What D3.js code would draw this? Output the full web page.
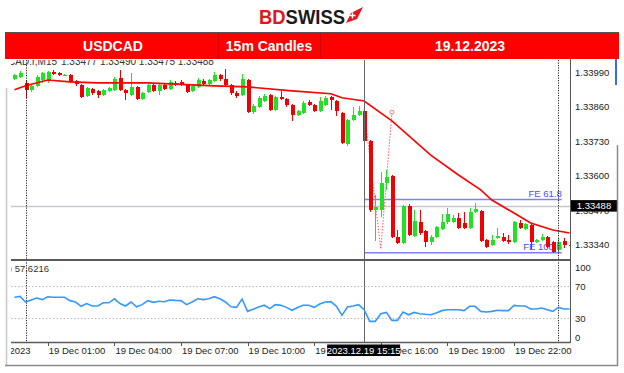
<!DOCTYPE html>
<html>
<head>
<meta charset="utf-8">
<script src="https://cdn.jsdelivr.net/npm/d3@7"></script>
<style>
  body { margin: 0; background: #fff; }
  svg { display: block; font-family: "Liberation Sans", Arial, sans-serif; }
</style>
</head>
<body>
<svg id="chart" width="624" height="373"></svg>
<script>
// 15m candles, index 0 = 18 Dec 23:30
const open = [
  1.33964, 1.33972, 1.33949, 1.33923, 1.33938, 1.33960, 1.33957, 1.33990, 1.33987, 1.33977,
  1.33979, 1.33957, 1.33942, 1.33900, 1.33927, 1.33919, 1.33904, 1.33919, 1.33923, 1.33968,
  1.33923, 1.33904, 1.33934, 1.33889, 1.33915, 1.33942, 1.33919, 1.33942, 1.33927, 1.33949,
  1.33953, 1.33942, 1.33919, 1.33934, 1.33957, 1.33945, 1.33957, 1.33979, 1.33964, 1.33942,
  1.33912, 1.33904, 1.33960, 1.33840, 1.33859, 1.33881, 1.33904, 1.33848, 1.33896, 1.33889,
  1.33866, 1.33829, 1.33836, 1.33878, 1.33866, 1.33844, 1.33866, 1.33896, 1.33881, 1.33836,
  1.33720, 1.33810, 1.33829, 1.33844, 1.33731, 1.33472, 1.33472, 1.33573, 1.33599, 1.33370,
  1.33348, 1.33487, 1.33374, 1.33426, 1.33393, 1.33351, 1.33370, 1.33400, 1.33426, 1.33426,
  1.33442, 1.33423, 1.33404, 1.33464, 1.33468, 1.33359, 1.33340, 1.33366, 1.33370, 1.33359,
  1.33351, 1.33423, 1.33400, 1.33415, 1.33351, 1.33359, 1.33370, 1.33351, 1.33321, 1.33355,
  1.33340
];
const high = [
  1.33983, 1.33994, 1.33960, 1.33945, 1.33979, 1.33990, 1.33994, 1.33998, 1.33990, 1.33983,
  1.33983, 1.33960, 1.33945, 1.33934, 1.33930, 1.33923, 1.33927, 1.33934, 1.33972, 1.33998,
  1.33927, 1.33987, 1.33938, 1.33915, 1.33945, 1.33945, 1.33945, 1.33945, 1.33960, 1.33957,
  1.33960, 1.33945, 1.33942, 1.33968, 1.33964, 1.33964, 1.33990, 1.33983, 1.34002, 1.33945,
  1.33919, 1.33983, 1.33964, 1.33870, 1.33900, 1.33908, 1.33908, 1.33900, 1.33919, 1.33893,
  1.33870, 1.33848, 1.33881, 1.33885, 1.33870, 1.33896, 1.33900, 1.33900, 1.33885, 1.33840,
  1.33814, 1.33859, 1.33863, 1.33863, 1.33735, 1.33528, 1.33614, 1.33622, 1.33603, 1.33396,
  1.33490, 1.33494, 1.33472, 1.33472, 1.33396, 1.33378, 1.33411, 1.33457, 1.33479, 1.33453,
  1.33460, 1.33464, 1.33479, 1.33498, 1.33472, 1.33363, 1.33378, 1.33404, 1.33385, 1.33378,
  1.33430, 1.33434, 1.33423, 1.33419, 1.33363, 1.33381, 1.33374, 1.33355, 1.33366, 1.33366,
  1.33351
];
const low = [
  1.33960, 1.33968, 1.33893, 1.33915, 1.33934, 1.33949, 1.33949, 1.33979, 1.33975, 1.33975,
  1.33949, 1.33938, 1.33893, 1.33896, 1.33904, 1.33893, 1.33900, 1.33915, 1.33919, 1.33919,
  1.33885, 1.33900, 1.33885, 1.33885, 1.33912, 1.33915, 1.33904, 1.33923, 1.33923, 1.33938,
  1.33938, 1.33912, 1.33915, 1.33930, 1.33938, 1.33942, 1.33953, 1.33957, 1.33938, 1.33904,
  1.33893, 1.33900, 1.33836, 1.33833, 1.33855, 1.33878, 1.33844, 1.33844, 1.33885, 1.33859,
  1.33806, 1.33825, 1.33833, 1.33863, 1.33840, 1.33840, 1.33863, 1.33848, 1.33825, 1.33720,
  1.33712, 1.33806, 1.33825, 1.33724, 1.33464, 1.33355, 1.33445, 1.33547, 1.33366, 1.33344,
  1.33344, 1.33374, 1.33370, 1.33378, 1.33332, 1.33340, 1.33366, 1.33396, 1.33419, 1.33423,
  1.33400, 1.33400, 1.33400, 1.33460, 1.33351, 1.33329, 1.33336, 1.33363, 1.33351, 1.33344,
  1.33348, 1.33400, 1.33396, 1.33325, 1.33348, 1.33355, 1.33329, 1.33310, 1.33314, 1.33329,
  1.33321
];
const close = [
  1.33979, 1.33987, 1.33923, 1.33938, 1.33972, 1.33987, 1.33990, 1.33983, 1.33979, 1.33979,
  1.33953, 1.33945, 1.33896, 1.33930, 1.33912, 1.33904, 1.33923, 1.33930, 1.33964, 1.33923,
  1.33912, 1.33934, 1.33889, 1.33912, 1.33942, 1.33919, 1.33942, 1.33927, 1.33953, 1.33942,
  1.33942, 1.33915, 1.33938, 1.33960, 1.33945, 1.33960, 1.33979, 1.33964, 1.33942, 1.33912,
  1.33900, 1.33964, 1.33840, 1.33863, 1.33893, 1.33900, 1.33848, 1.33896, 1.33889, 1.33866,
  1.33829, 1.33844, 1.33874, 1.33866, 1.33844, 1.33881, 1.33893, 1.33885, 1.33844, 1.33724,
  1.33810, 1.33829, 1.33844, 1.33731, 1.33472, 1.33483, 1.33573, 1.33596, 1.33370, 1.33348,
  1.33487, 1.33378, 1.33430, 1.33385, 1.33351, 1.33370, 1.33408, 1.33426, 1.33457, 1.33442,
  1.33404, 1.33404, 1.33464, 1.33475, 1.33355, 1.33332, 1.33359, 1.33374, 1.33355, 1.33351,
  1.33426, 1.33404, 1.33419, 1.33351, 1.33359, 1.33370, 1.33332, 1.33314, 1.33351, 1.33340,
  1.33336
];

// moving average, read at a few candles
const maIdx = [0, 2, 6, 10, 15, 24, 36, 42, 50, 57, 59, 63, 68, 75, 80, 84, 86, 90, 93, 97, 100];
const maVal = [1.33923, 1.33938, 1.33960, 1.33953, 1.33949, 1.33949, 1.33938, 1.33934, 1.33919, 1.33908,
  1.33893, 1.33881, 1.33806, 1.33678, 1.33603, 1.33547, 1.33509, 1.33460, 1.33423, 1.33396, 1.33385];

// RSI(14), one value per candle
const rsi = [
  56, 57, 50, 52.5, 55, 53, 56.6, 56, 56, 56,
  51.7, 50, 44.6, 48, 45, 45, 49, 49, 54, 48,
  45, 50, 44, 46.7, 51.7, 49.6, 51, 50.4, 52.5, 52,
  51.7, 46.7, 50, 54, 53, 54, 56.6, 54, 50, 44,
  43.3, 53.7, 38.3, 41, 43.7, 46, 41.7, 46.7, 45.8, 43.3,
  39.6, 43, 46, 46, 43.3, 47.5, 50, 50.4, 44.6, 33.3,
  43.7, 45, 46.7, 40.4, 25.8, 25.8, 35.4, 37, 27, 27,
  37.5, 34, 37, 35.4, 34.6, 34, 36.3, 39.2, 40.4, 40.4,
  40.4, 39.2, 44.6, 44.6, 38.3, 37.5, 38.3, 39.6, 39.2, 39.2,
  45.8, 45, 45, 41.2, 41.2, 42.5, 40.4, 38.3, 43.3, 41.2,
  41.2
];

const priceTicks = [1.33990, 1.33860, 1.33730, 1.33600, 1.33470, 1.33340];
const rsiTicks = [100, 70, 30, 0];
const rsiLevels = [70, 30];
const timeIdx = [-7, 6, 18, 30, 42, 54, 66, 78, 90];
const timeLabels = ["18 Dec 2023", "19 Dec 01:00", "19 Dec 04:00", "19 Dec 07:00", "19 Dec 10:00",
  "19 Dec 13:00", "19 Dec 16:00", "19 Dec 19:00", "19 Dec 22:00"];
const daySeparators = [2, 98];

// Fibonacci expansion A-B-C
const feIdx = [63, 66, 68];
const fePrice = [1.33849, 1.33325, 1.33835];
const feRatios = [0.618, 1.0];
const feLabels = ["FE 61.8", "FE 100.0"];
const feEndIdx = 98.6;

const crossIdx = 63, crossPrice = 1.33488;
const crossTime = "2023.12.19 15:15";
const header = ["USDCAD", "15m Candles", "19.12.2023"];

const svg = d3.select("#chart");
const left = 11, right = 570, mainTop = 60, mainBot = 260;

const x = d3.scaleLinear().domain([-0.63, 100.09]).range([left, right]);
const y = d3.scaleLinear().domain([1.3328364, 1.340351]).range([mainBot, mainTop]);
const yr = d3.scaleLinear().domain([0, 100]).range([342, 262]);

svg.append("rect").attr("width", 624).attr("height", 373).attr("fill", "#fff");

const defs = svg.append("defs");
defs.append("clipPath").attr("id", "plot")
  .append("rect").attr("x", left).attr("y", mainTop).attr("width", right - left).attr("height", 342 - mainTop);
defs.append("clipPath").attr("id", "axisclip")
  .append("rect").attr("x", left).attr("y", 340).attr("width", right - left + 60).attr("height", 25);

// chart info line (partly hidden under the banner)
svg.append("g").attr("clip-path", "url(#plot)")
  .selectAll("text").data([["USDCAD.r,M15", 57, "end"], ["1.33477 1.33490 1.33475 1.33488", 61, "start"]])
  .join("text")
  .attr("x", d => d[1]).attr("y", 65)
  .attr("text-anchor", d => d[2])
  .attr("font-size", 10).attr("fill", "#333")
  .text(d => d[0]);

const plot = svg.append("g").attr("clip-path", "url(#plot)");

// crosshair horizontal
plot.append("line")
  .attr("x1", left).attr("x2", right)
  .attr("y1", Math.round(y(crossPrice)) + 0.5).attr("y2", Math.round(y(crossPrice)) + 0.5)
  .attr("stroke", "#c4c9cf").attr("stroke-width", 1.5);

// FE levels
const feRange = fePrice[0] - fePrice[1];
const feLevels = feRatios.map(r => fePrice[2] - feRange * r);
plot.selectAll(".fe").data(feLevels).join("line")
  .attr("x1", x(feIdx[0])).attr("x2", x(feEndIdx))
  .attr("y1", d => y(d)).attr("y2", d => y(d))
  .attr("stroke", "#8080ff").attr("stroke-width", 1.5);
plot.selectAll(".fel").data(feLevels).join("text")
  .attr("x", x(feEndIdx)).attr("y", d => y(d) - 2.5)
  .attr("text-anchor", "end").attr("font-size", 9.5).attr("fill", "#4a4aff")
  .text((d, i) => feLabels[i]);

// FE trend dotted lines
plot.append("path")
  .attr("d", d3.line().x((d, i) => x(feIdx[i])).y(d => y(d))(fePrice))
  .attr("fill", "none").attr("stroke", "#ff5a5a").attr("stroke-width", 1)
  .attr("stroke-dasharray", "1.5,1.5");
plot.append("circle")
  .attr("cx", x(feIdx[2])).attr("cy", y(fePrice[2]) - 1).attr("r", 2)
  .attr("fill", "none").attr("stroke", "#ff5a5a").attr("stroke-width", 0.8);

// candles
const idx = d3.range(open.length);
const cg = plot.append("g").attr("shape-rendering", "crispEdges");
cg.selectAll("line").data(idx).join("line")
  .attr("x1", i => Math.round(x(i)) + 0.5).attr("x2", i => Math.round(x(i)) + 0.5)
  .attr("y1", i => y(high[i])).attr("y2", i => y(low[i]))
  .attr("stroke", i => close[i] >= open[i] ? "#22e022" : "#f00000");
cg.selectAll("rect").data(idx).join("rect")
  .attr("x", i => Math.round(x(i)) - 1)
  .attr("width", 4)
  .attr("y", i => y(Math.max(open[i], close[i])))
  .attr("height", i => Math.max(1, Math.abs(y(open[i]) - y(close[i]))))
  .attr("fill", i => close[i] >= open[i] ? "#22e022" : "#f00000");

// moving average
plot.append("path")
  .attr("d", d3.line().x((d, i) => x(maIdx[i])).y(d => y(d))(maVal))
  .attr("fill", "none").attr("stroke", "#ff0000").attr("stroke-width", 1.6);

// day separators
plot.selectAll(".sep").data(daySeparators).join("line")
  .attr("x1", d => Math.round(x(d)) + 0.5).attr("x2", d => Math.round(x(d)) + 0.5)
  .attr("y1", mainTop).attr("y2", 342)
  .attr("stroke", "#222").attr("stroke-dasharray", "1.2,1.3");

// crosshair vertical
plot.append("line")
  .attr("x1", Math.round(x(crossIdx)) + 0.5).attr("x2", Math.round(x(crossIdx)) + 0.5)
  .attr("y1", mainTop).attr("y2", 342)
  .attr("stroke", "#666").attr("stroke-width", 1);

// RSI panel
plot.selectAll(".lvl").data(rsiLevels).join("line")
  .attr("x1", left).attr("x2", right)
  .attr("y1", d => Math.round(yr(d)) + 0.5).attr("y2", d => Math.round(yr(d)) + 0.5)
  .attr("stroke", "#b8b8b8").attr("stroke-dasharray", "1.5,2");
plot.append("path")
  .attr("d", d3.line().x((d, i) => x(i)).y(d => yr(d))(rsi))
  .attr("fill", "none").attr("stroke", "#3399ff").attr("stroke-width", 1.6);
svg.append("g").attr("clip-path", "url(#plot)").append("text")
  .attr("x", 49).attr("y", 272).attr("text-anchor", "end")
  .attr("font-size", 9.5).attr("fill", "#333")
  .text("RSI(14) 57.6216");

// frames
svg.append("line").attr("x1", left).attr("x2", right).attr("y1", 260).attr("y2", 260)
  .attr("stroke", "#5a5a5a").attr("stroke-width", 2);
svg.append("line").attr("x1", left).attr("x2", right).attr("y1", 342.5).attr("y2", 342.5)
  .attr("stroke", "#5a5a5a").attr("stroke-width", 1.5);
svg.append("line").attr("x1", right + 0.5).attr("x2", right + 0.5).attr("y1", 58).attr("y2", 343)
  .attr("stroke", "#555").attr("stroke-width", 1);

// price axis
svg.selectAll(".pt").data(priceTicks).join("text")
  .attr("x", 575).attr("y", d => y(d) + 3.5)
  .attr("font-size", 9.5).attr("fill", "#222")
  .text(d => d.toFixed(5));
svg.append("rect").attr("x", 571).attr("y", y(crossPrice) - 5.5).attr("width", 46).attr("height", 11.5)
  .attr("fill", "#000");
svg.append("text").attr("x", 594).attr("y", y(crossPrice) + 3.8).attr("text-anchor", "middle")
  .attr("font-size", 9.5).attr("fill", "#fff").text(crossPrice.toFixed(5));

// RSI axis
svg.selectAll(".rt").data(rsiTicks).join("text")
  .attr("x", 575).attr("y", d => Math.min(337, Math.max(267, yr(d))) + 3.5)
  .attr("font-size", 9.5).attr("fill", "#222")
  .text(d => d);

// time axis
const ta = svg.append("g").attr("clip-path", "url(#axisclip)");
ta.selectAll("line").data(timeIdx).join("line")
  .attr("x1", d => Math.round(x(d)) + 0.5).attr("x2", d => Math.round(x(d)) + 0.5)
  .attr("y1", 343).attr("y2", 346).attr("stroke", "#555");
ta.selectAll("text").data(timeIdx).join("text")
  .attr("x", d => x(d) + 1).attr("y", 354)
  .attr("font-size", 9.5).attr("fill", "#222")
  .text((d, i) => timeLabels[i]);
svg.append("rect").attr("x", x(crossIdx) - 37).attr("y", 344.5).attr("width", 73).attr("height", 11.5)
  .attr("fill", "#000");
svg.append("text").attr("x", x(crossIdx) - 0.5).attr("y", 353.8).attr("text-anchor", "middle")
  .attr("font-size", 9.5).attr("fill", "#fff").text(crossTime);

// outer borders
svg.append("line").attr("x1", 6.5).attr("x2", 6.5).attr("y1", 88).attr("y2", 365)
  .attr("stroke", "#c8c8c8").attr("stroke-width", 1.5);
svg.append("line").attr("x1", 5).attr("x2", 618).attr("y1", 365.5).attr("y2", 365.5)
  .attr("stroke", "#8a8a8a").attr("stroke-width", 1.5);
svg.append("line").attr("x1", 617.5).attr("x2", 617.5).attr("y1", 145).attr("y2", 366)
  .attr("stroke", "#8a8a8a").attr("stroke-width", 1.5);
svg.append("rect").attr("x", 615).attr("y", 59).attr("width", 2).attr("height", 26).attr("fill", "#3a6fd8");

// banner
svg.append("rect").attr("x", 5).attr("y", 32).attr("width", 614).attr("height", 27).attr("fill", "#ff0000");
svg.append("line").attr("x1", 5).attr("x2", 619).attr("y1", 32.5).attr("y2", 32.5).attr("stroke", "#555");
svg.selectAll(".bsep").data([218, 320]).join("line")
  .attr("x1", d => d + 0.5).attr("x2", d => d + 0.5).attr("y1", 33).attr("y2", 59)
  .attr("stroke", "#d40000");
svg.selectAll(".btxt").data(header).join("text")
  .attr("x", (d, i) => [113, 269, 470][i]).attr("y", 50.5)
  .attr("text-anchor", "middle").attr("font-size", 14).attr("font-weight", "bold")
  .attr("fill", "#fff").text(d => d);

// logo
const logo = svg.append("text").attr("x", 259).attr("y", 24)
  .attr("font-size", 21).attr("font-weight", "bold")
  .attr("textLength", 86).attr("lengthAdjust", "spacingAndGlyphs");
logo.append("tspan").attr("fill", "#e3161d").text("BD");
logo.append("tspan").attr("fill", "#1b1b1b").text("SWISS");
svg.append("polygon").attr("points", "346,23 351,13 363,7 357,19").attr("fill", "#e3161d");
svg.append("path").attr("d", "M352.5,12.5v6M349.5,15.5h6").attr("stroke", "#fff").attr("stroke-width", 1.4);
</script>
</body>
</html>
